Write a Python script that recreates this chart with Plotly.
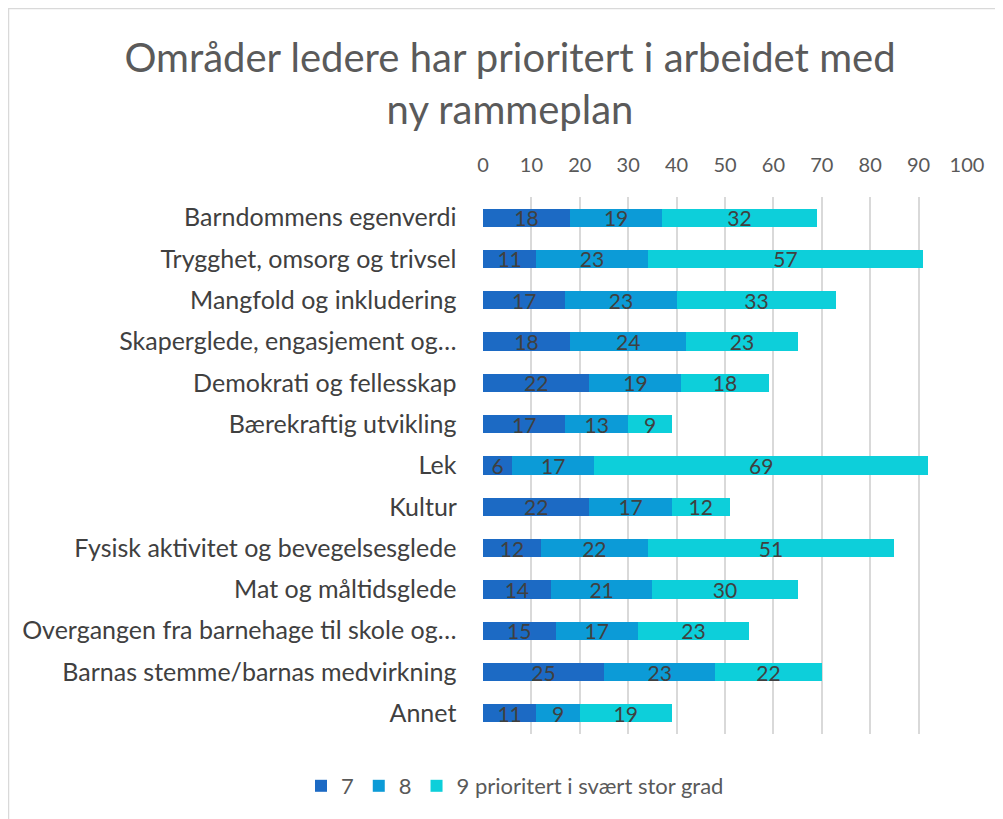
import plotly.graph_objects as go

categories = [
    "Barndommens egenverdi",
    "Trygghet, omsorg og trivsel",
    "Mangfold og inkludering",
    "Skaperglede, engasjement og…",
    "Demokrati og fellesskap",
    "Bærekraftig utvikling",
    "Lek",
    "Kultur",
    "Fysisk aktivitet og bevegelsesglede",
    "Mat og måltidsglede",
    "Overgangen fra barnehage til skole og…",
    "Barnas stemme/barnas medvirkning",
    "Annet",
]
s7 = [18, 11, 17, 18, 22, 17, 6, 22, 12, 14, 15, 25, 11]
s8 = [19, 23, 23, 24, 19, 13, 17, 17, 22, 21, 17, 23, 9]
s9 = [32, 57, 33, 23, 18, 9, 69, 12, 51, 30, 23, 22, 19]
series_names = ["7", "8", "9 prioritert i svært stor grad"]
colors = ["#1C6AC4", "#0C9BD7", "#0DCFDA"]
x_ticks = list(range(0, 101, 10))

FONT = "Lato"
fig = go.Figure()
for name, vals, col in zip(series_names, [s7, s8, s9], colors):
    fig.add_trace(go.Bar(
        y=categories, x=vals, name=name, orientation="h",
        marker=dict(color=col, line=dict(width=0)),
        text=[str(v) for v in vals], textposition="inside",
        insidetextanchor="middle", textangle=0, constraintext="none",
        textfont=dict(family=FONT, size=21, color="#404040"),
    ))

# page body has an 8px margin; layout values are in figure pixels
L, R, T, B = 475, 44, 189, 93
W, H = 1003, 819
PW, PH = W - L - R, H - T - B
fig.update_layout(
    width=W, height=H, barmode="stack", bargap=0.56,
    paper_bgcolor="white", plot_bgcolor="white",
    margin=dict(l=L, r=R, t=T, b=B, autoexpand=False),
    title=dict(text="Områder ledere har prioritert i arbeidet med<br>ny rammeplan",
               x=502 / W, xanchor="center", y=1 - 64 / H, yanchor="top",
               font=dict(family=FONT, size=40, color="#5A5A5A")),
    xaxis=dict(side="top", range=[0, 100], tickvals=x_ticks, automargin=False,
               showgrid=True, gridcolor="#D9D9D9", gridwidth=2,
               zeroline=False, showline=False, ticks="", ticklabelstandoff=20,
               tickfont=dict(family=FONT, size=20, color="#595959")),
    yaxis=dict(autorange="reversed", showgrid=False, ticks="", ticksuffix="    ",
               automargin=False,
               tickfont=dict(family=FONT, size=25, color="#404040")),
    legend=dict(orientation="h", x=507 / W, xref="container",
                xanchor="center", y=1 - 778 / H, yref="container", yanchor="middle",
                font=dict(family=FONT, size=22, color="#595959"), traceorder="normal"),
    showlegend=True,
)
fig.add_shape(type="rect", xref="paper", yref="paper",
              x0=(0.5 - L) / PW, x1=(1010 - L) / PW,
              y0=(H - B - 830) / PH, y1=(H - B - 0.5) / PH,
              line=dict(color="#D9D9D9", width=1.5), layer="below")
fig.write_html("out.html")
